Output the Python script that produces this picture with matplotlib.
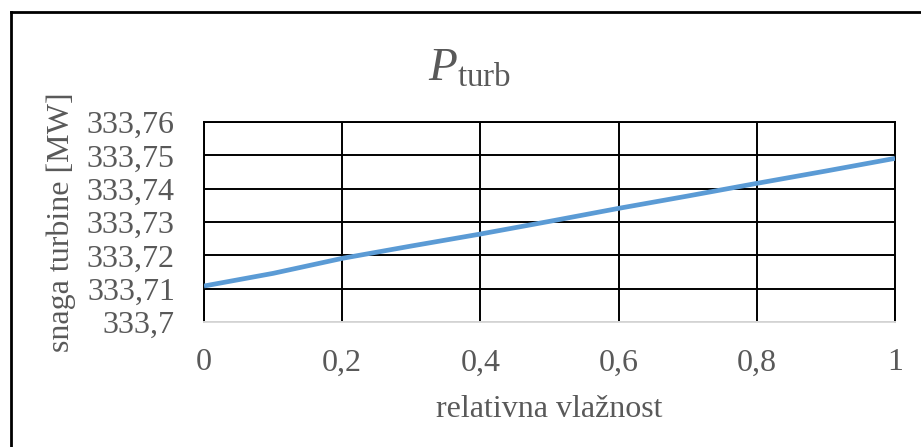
import matplotlib.pyplot as plt
from matplotlib.lines import Line2D
from matplotlib.ticker import FuncFormatter

plt.rcParams['font.family'] = ['Liberation Serif', 'DejaVu Serif']
plt.rcParams['mathtext.fontset'] = 'custom'
plt.rcParams['mathtext.rm'] = 'Liberation Serif'
plt.rcParams['mathtext.it'] = 'Liberation Serif:italic'

# data
humidity = [0.0, 0.1, 0.2, 0.3, 0.4, 0.5, 0.6, 0.7, 0.8, 0.9, 1.0]
power = [333.7108, 333.7146, 333.7191, 333.7228, 333.7264, 333.7302,
         333.7341, 333.7378, 333.7416, 333.7453, 333.7491]
x_ticks = [0, 0.2, 0.4, 0.6, 0.8, 1]
y_ticks = [333.70, 333.71, 333.72, 333.73, 333.74, 333.75, 333.76]

TXT = '#595959'

fig = plt.figure(figsize=(9.21, 4.47), dpi=100)
ax = fig.add_axes([0.2215, 0.2796, 0.7503, 0.4474])

ax.plot(humidity, power, color='#5B9BD5', linewidth=3.4, solid_capstyle='butt', zorder=3)

ax.set_xlim(0, 1)
ax.set_ylim(333.70, 333.76)
ax.set_xticks(x_ticks)
ax.set_yticks(y_ticks)

def comma_fmt(v, pos):
    s = f'{v:.2f}'.rstrip('0').rstrip('.')
    return s.replace('.', ',')

ax.xaxis.set_major_formatter(FuncFormatter(comma_fmt))
ax.yaxis.set_major_formatter(FuncFormatter(comma_fmt))
ax.tick_params(axis='both', length=0, labelsize=23, labelcolor=TXT)
ax.tick_params(axis='x', pad=19)
ax.tick_params(axis='y', pad=21)

ax.grid(True, color='black', linewidth=1.4)
for s in ax.spines.values():
    s.set_color('black')
    s.set_linewidth(1.4)
ax.spines['bottom'].set_color('#d9d9d9')

ax.set_xlabel('relativna vlažnost', fontsize=23, color=TXT, labelpad=13)
ax.set_ylabel('snaga turbine [MW]', fontsize=23, color=TXT, labelpad=8)

fig.text(0.51, 0.845, r'$P_{\mathrm{turb}}$', fontsize=34, color=TXT, ha='center', va='center')

# outer frame (top and left only, as in the reference)
fig.add_artist(Line2D([0.0115, 1.0], [0.974, 0.974], transform=fig.transFigure, color='black', linewidth=2))
fig.add_artist(Line2D([0.0115, 0.0115], [0.0, 0.974], transform=fig.transFigure, color='black', linewidth=2))

fig.savefig('out.png', dpi=100)
